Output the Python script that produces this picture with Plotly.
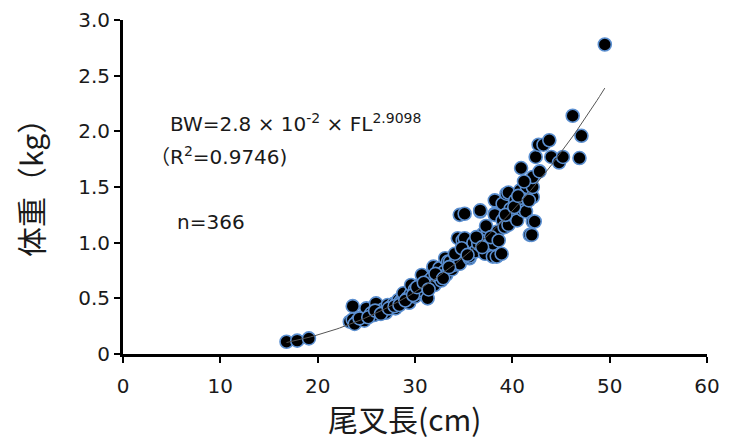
import plotly.graph_objects as go

# Fork length (cm) and body weight (kg)
fork_length = [
    16.8, 17.9, 19.1, 23.6, 23.3, 23.6, 24.1, 23.8, 24.5, 24.8,
    25.0, 25.0, 25.5, 25.8, 26.0, 26.0, 26.3, 26.7, 27.2, 27.0,
    27.5, 27.8, 28.1, 28.3, 28.0, 28.5, 28.8, 28.8, 29.2, 29.6,
    29.6, 29.4, 30.0, 30.0, 30.3, 30.5, 30.7, 30.8, 31.2, 31.3,
    31.5, 31.7, 31.9, 31.9, 32.0, 32.3, 32.5, 32.7, 33.0, 33.2,
    33.1, 33.4, 33.6, 33.8, 34.0, 34.3, 34.3, 34.4, 34.6, 34.6,
    34.6, 34.9, 35.1, 35.1, 35.2, 35.6, 35.6, 35.8, 36.0, 36.2,
    36.5, 36.7, 36.7, 36.8, 37.0, 37.0, 37.2, 37.5, 37.6, 37.9,
    38.0, 38.0, 38.2, 38.2, 38.2, 38.4, 38.5, 38.9, 39.0, 39.0,
    39.2, 39.4, 39.6, 39.6, 39.8, 40.0, 40.3, 40.5, 40.8, 40.8,
    40.9, 41.1, 41.4, 41.5, 41.8, 42.0, 42.1, 42.1, 42.1, 42.1,
    42.3, 42.4, 42.7, 42.8, 43.2, 43.8, 44.0, 44.8, 45.2, 46.2,
    46.9, 47.1, 49.5,
    24.3, 25.2, 25.9, 26.5, 27.3, 27.9, 28.4, 29.0, 29.8, 30.2,
    30.9, 31.4, 32.1, 32.9, 33.5, 34.1, 34.8, 35.4, 36.3, 36.9,
    37.3, 37.8, 38.6, 39.3, 40.2, 40.6, 41.2, 41.7,
]
body_weight = [
    0.11, 0.12, 0.14, 0.43, 0.29, 0.31, 0.30, 0.27, 0.33, 0.30,
    0.34, 0.41, 0.365, 0.35, 0.425, 0.455, 0.38, 0.40, 0.44, 0.37,
    0.42, 0.45, 0.455, 0.485, 0.41, 0.47, 0.515, 0.545, 0.50, 0.545,
    0.62, 0.46, 0.515, 0.58, 0.55, 0.62, 0.71, 0.57, 0.60, 0.50,
    0.66, 0.68, 0.77, 0.785, 0.62, 0.70, 0.77, 0.66, 0.74, 0.71,
    0.86, 0.83, 0.83, 0.76, 0.80, 0.86, 0.845, 1.04, 0.875, 0.81,
    1.25, 1.02, 1.26, 1.04, 0.93, 0.86, 0.875, 0.96, 1.00, 0.92,
    0.99, 1.28, 1.29, 1.05, 1.02, 1.08, 0.90, 1.11, 0.98, 0.99,
    0.875, 0.99, 1.26, 1.38, 1.25, 0.875, 1.10, 0.90, 1.35, 1.20,
    1.14, 1.44, 1.16, 1.45, 1.30, 1.25, 1.38, 1.20, 1.47, 1.35,
    1.67, 1.29, 1.28, 1.50, 1.07, 1.07, 1.19, 1.41, 1.50, 1.59,
    1.19, 1.77, 1.88, 1.64, 1.88, 1.92, 1.77, 1.72, 1.77, 2.14,
    1.76, 1.96, 2.78,
    0.32, 0.33, 0.39, 0.36, 0.41, 0.43, 0.44, 0.48, 0.53, 0.60,
    0.64, 0.58, 0.72, 0.68, 0.78, 0.90, 0.95, 0.89, 1.05, 0.96,
    1.15, 1.05, 1.02, 1.25, 1.32, 1.42, 1.55, 1.38,
]

# Fitted power curve stated on the chart: BW(g) = 2.8e-2 * FL^2.9098
fit_a = 2.8e-2
fit_b = 2.9098
fit_x = [16.8 + i * (49.5 - 16.8) / 120 for i in range(121)]
fit_y = [fit_a * x ** fit_b / 1000 for x in fit_x]

x_ticks = [0, 10, 20, 30, 40, 50, 60]
y_ticks = [0, 0.5, 1.0, 1.5, 2.0, 2.5, 3.0]
y_tick_text = ["0", "0.5", "1.0", "1.5", "2.0", "2.5", "3.0"]

x_title = "尾叉長(cm)"
y_title = "体重（kg）"

fig = go.Figure()
fig.add_trace(go.Scatter(
    x=fork_length, y=body_weight, mode="markers",
    marker=dict(size=13, color="black", line=dict(color="#5b8fd0", width=1.6)),
    cliponaxis=False, showlegend=False,
))
fig.add_trace(go.Scatter(
    x=fit_x, y=fit_y, mode="lines",
    line=dict(color="#555555", width=1), showlegend=False,
))

latin = "DejaVu Sans, Noto Sans CJK JP"
txt_font = dict(family=latin, size=20, color="#1a1a1a")
fig.add_annotation(x=4.6, y=2.075, xref="x", yref="y", xanchor="left", yanchor="middle",
                   text="BW=2.8 × 10<sup>-2</sup> × FL<sup>2.9098</sup>", showarrow=False, font=txt_font)
fig.add_annotation(x=2.6, y=1.78, xref="x", yref="y", xanchor="left", yanchor="middle",
                   text="（R<sup>2</sup>=0.9746)", showarrow=False, font=txt_font)
fig.add_annotation(x=5.34, y=1.186, xref="x", yref="y", xanchor="left", yanchor="middle",
                   text="n=366", showarrow=False, font=txt_font)

title_font = dict(family="Noto Sans CJK JP", size=30, color="#1a1a1a")
fig.add_annotation(x=(404 - 123) / 584, y=(354 - 418) / 334, xref="paper", yref="paper",
                   xanchor="center", yanchor="middle", text=x_title, showarrow=False,
                   borderpad=0, font=title_font)
fig.add_annotation(x=(30 - 123) / 584, y=(354 - 181) / 334, xref="paper", yref="paper",
                   xanchor="center", yanchor="middle", text=y_title, textangle=-90,
                   showarrow=False, borderpad=0, font=title_font)

axis_common = dict(
    showline=True, linecolor="black", linewidth=3, showgrid=False, zeroline=False,
    ticks="outside", tickcolor="black", tickwidth=2, ticklen=6, automargin=False,
    tickfont=dict(family=latin, size=20, color="#1a1a1a"),
)
fig.update_xaxes(range=[0, 60], tickvals=x_ticks, ticklabelstandoff=6, **axis_common)
fig.update_yaxes(range=[0, 3.0], tickvals=y_ticks, ticktext=y_tick_text, **axis_common)
fig.update_layout(
    width=731, height=440,
    margin=dict(l=123, r=24, t=20, b=86),
    plot_bgcolor="white", paper_bgcolor="white",
)
fig.write_html(
    "out.html",
    config={"displayModeBar": False},
    post_script="document.body.style.margin='0';document.body.style.overflow='hidden';",
)
